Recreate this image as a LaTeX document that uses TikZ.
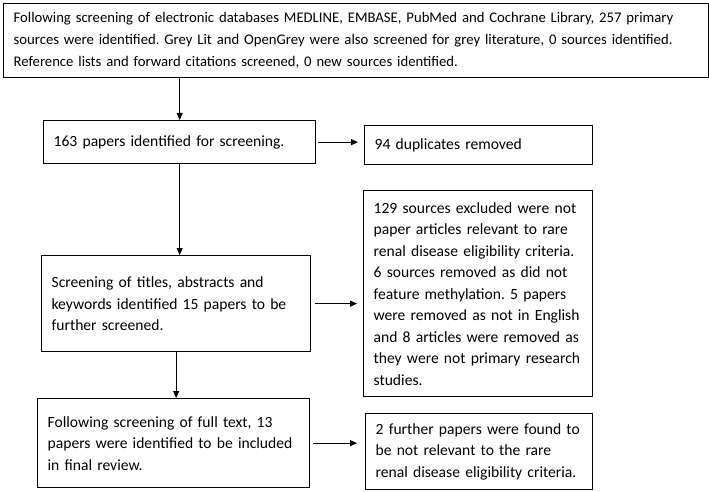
\documentclass[tikz,border=0pt]{standalone}
\usepackage{fontspec}
\setmainfont{Carlito}
\frenchspacing
\hyphenpenalty=10000
\usetikzlibrary{arrows.meta}
\begin{document}
\begin{tikzpicture}[x=1pt,y=-1pt,
  stage/.style={draw,line width=1.3pt,align=left,anchor=north west,inner xsep=10pt,inner ysep=0pt,
    font=\fontsize{15.6}{21.5}\selectfont},
  flow/.style={-{Triangle[length=7pt,width=6pt]},line width=0.8pt}]
\useasboundingbox (0,0) rectangle (709,492);
% boxes, top left corners at pixel positions
\node[stage,text width=685pt,minimum height=74pt,font=\fontsize{14.7}{22}\selectfont] (search) at (3,3)
  {Following screening of electronic databases MEDLINE, EMBASE, PubMed and Cochrane Library, 257 primary\\
   sources were identified. Grey Lit and OpenGrey were also screened for grey literature, 0 sources identified.\\
   Reference lists and forward citations screened, 0 new sources identified.};
\node[stage,text width=252pt,minimum height=43pt] (ident) at (43,120) {163 papers identified for screening.};
\node[stage,text width=208pt,minimum height=39pt] (dupl) at (364,125) {94 duplicates removed};
\node[stage,text width=249pt,minimum height=96pt] (titles) at (41,255)
  {Screening of titles, abstracts and\\ keywords identified 15 papers to be\\ further screened.};
\node[stage,text width=209pt,minimum height=206pt] (excl) at (363,190)
  {129 sources excluded were not\\ paper articles relevant to rare\\ renal disease eligibility criteria.\\
   6 sources removed as did not\\ feature methylation. 5 papers\\ were removed as not in English\\
   and 8 articles were removed as\\ they were not primary research\\ studies.};
\node[stage,text width=252pt,minimum height=89pt] (fulltext) at (37,398)
  {Following screening of full text, 13\\ papers were identified to be included\\ in final review.};
\node[stage,text width=207pt,minimum height=76pt] (further) at (365,413)
  {2 further papers were found to\\ be not relevant to the rare\\ renal disease eligibility criteria.};
% arrows
\draw[flow] (search.south -| ident.north) -- (ident.north);
\draw[flow] (ident.south) -- (ident.south |- titles.north);
\draw[flow] (titles.south) -- (titles.south |- fulltext.north);
\draw[flow,shorten <=2pt,shorten >=6pt] (ident.east) -- (ident.east -| dupl.west);
\draw[flow,shorten <=4pt,shorten >=6pt] (titles.east) -- (titles.east -| excl.west);
\draw[flow,shorten <=3pt,shorten >=8pt] (fulltext.east) -- (fulltext.east -| further.west);
\end{tikzpicture}
\end{document}
